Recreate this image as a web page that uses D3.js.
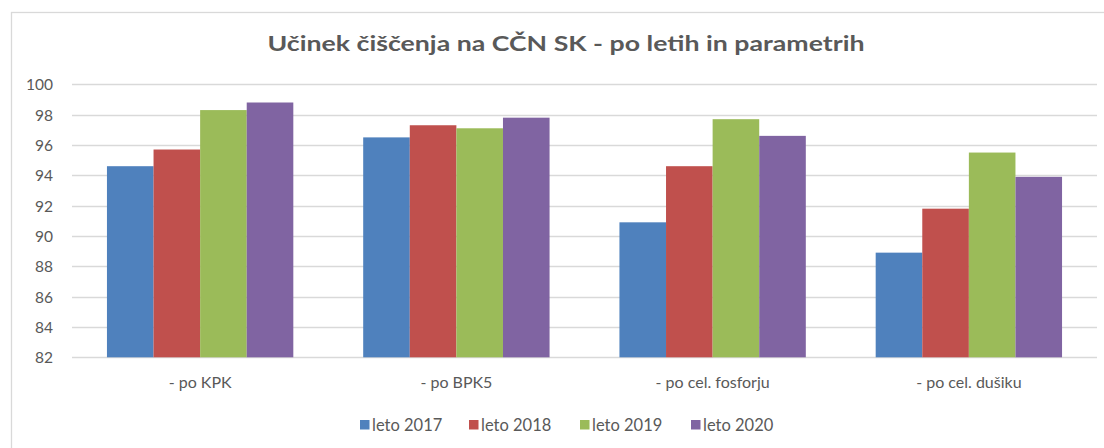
<!DOCTYPE html>
<html><head><meta charset="utf-8">
<script src="https://cdn.jsdelivr.net/npm/d3@7/dist/d3.min.js"></script>
<style>
html,body{margin:0;padding:0;background:#fff;}
svg text{font-family:Lato,"Open Sans",sans-serif;}
</style></head>
<body><svg id="c" width="1104" height="448"></svg>
<script>
const categories = ["- po KPK", "- po BPK5", "- po cel. fosforju", "- po cel. dušiku"];
const seriesNames = ["leto 2017", "leto 2018", "leto 2019", "leto 2020"];
const leto2017 = [94.6, 96.5, 90.9, 88.9];
const leto2018 = [95.7, 97.3, 94.6, 91.8];
const leto2019 = [98.3, 97.1, 97.7, 95.5];
const leto2020 = [98.8, 97.8, 96.6, 93.9];
const yTicks = [82, 84, 86, 88, 90, 92, 94, 96, 98, 100];
const colors = ["#4f81bd", "#c0504d", "#9bbb59", "#8064a2"];
const title = "Učinek čiščenja na CČN SK - po letih in parametrih";

const seriesValues = [leto2017, leto2018, leto2019, leto2020];
const svg = d3.select("#c");

// chart border
svg.append("rect").attr("x", 11.5).attr("y", 12.5).attr("width", 1110).attr("height", 460)
  .attr("fill", "#fff").attr("stroke", "#d9d9d9").attr("stroke-width", 1.3);

const pL = 72, pR = 1097, pT = 84.3, pB = 357.3;
const x0 = d3.scaleBand().domain(categories).range([pL, pR]).paddingInner(0.2727).paddingOuter(0.1364);
const x1 = d3.scaleBand().domain(seriesNames).range([0, x0.bandwidth()]);
const y = d3.scaleLinear().domain([82, 100]).range([pB, pT]);

// gridlines
svg.append("g").selectAll("line").data(yTicks).join("line")
  .attr("x1", pL).attr("x2", pR)
  .attr("y1", d => Math.round(y(d)) + 0.5).attr("y2", d => Math.round(y(d)) + 0.5)
  .attr("stroke", "#d9d9d9").attr("stroke-width", 1.3);

// y axis labels
const yAxis = d3.axisLeft(y).tickValues(yTicks).tickSize(0).tickPadding(0);
const yg = svg.append("g").attr("transform", `translate(53,0)`).call(yAxis);
yg.select(".domain").remove();
yg.selectAll("text").attr("fill", "#595959").attr("font-size", 15.5).attr("dy", "0.35em")
  .style("font-family", "Lato, sans-serif");

// bars
const groups = svg.append("g").selectAll("g").data(categories).join("g")
  .attr("transform", d => `translate(${x0(d)},0)`);
groups.selectAll("rect").data((c, i) => seriesNames.map((s, k) => ({s, k, v: seriesValues[k][i]})))
  .join("rect")
  .attr("x", d => x1(d.s)).attr("width", x1.bandwidth())
  .attr("y", d => y(d.v)).attr("height", d => y(82) - y(d.v))
  .attr("fill", d => colors[d.k]);

// x axis
const xAxis = d3.axisBottom(x0).tickSize(0).tickPadding(0);
const xg = svg.append("g").attr("transform", `translate(0,${pB + 25})`).call(xAxis);
xg.select(".domain").remove();
xg.selectAll("text").attr("fill", "#595959").attr("font-size", 16).attr("dy", "0.35em")
  .style("font-family", "Lato, sans-serif");

// title
svg.append("text").attr("x", 566).attr("y", 51).attr("text-anchor", "middle")
  .attr("font-size", 21).attr("font-weight", "bold").attr("fill", "#595959")
  .attr("textLength", 597).attr("lengthAdjust", "spacingAndGlyphs")
  .text(title);

// legend
const lx = [360, 469, 580, 691];
const lg = svg.append("g").selectAll("g").data(seriesNames).join("g")
  .attr("transform", (d, i) => `translate(${lx[i]},425)`);
lg.append("rect").attr("x", 0).attr("y", -5).attr("width", 9.5).attr("height", 9.5)
  .attr("fill", (d, i) => colors[i]);
lg.append("text").attr("x", 12).attr("y", 0).attr("dy", "0.35em")
  .attr("font-size", 16.5).attr("fill", "#595959").text(d => d);
</script></body></html>
